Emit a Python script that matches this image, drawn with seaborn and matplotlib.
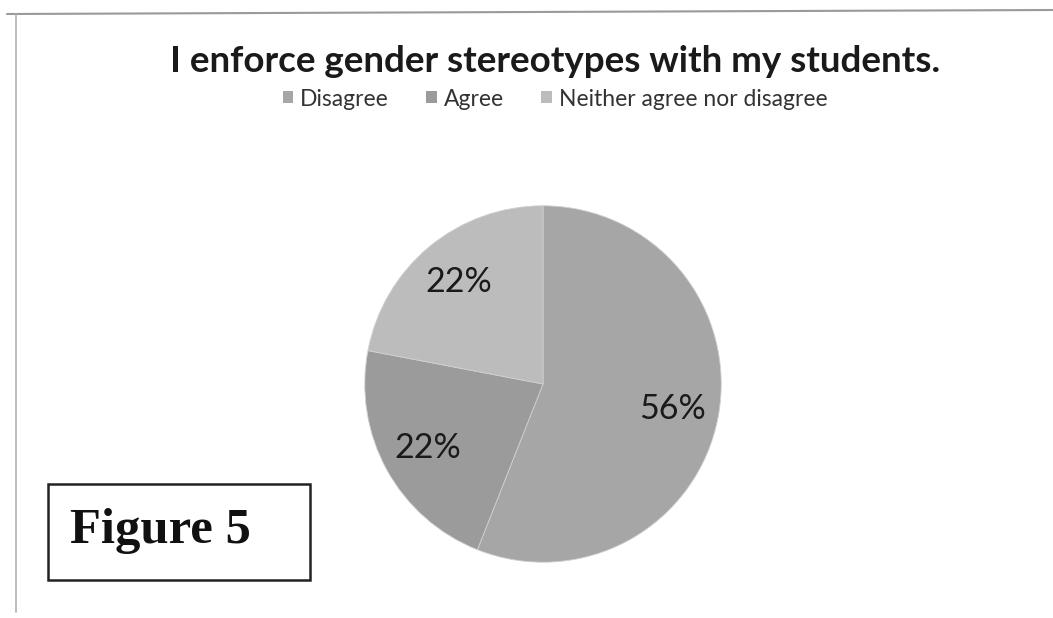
import matplotlib
matplotlib.use("Agg")
import matplotlib.pyplot as plt
from matplotlib.patches import Patch, Rectangle
from matplotlib.lines import Line2D
import seaborn as sns

sns.set_style("white")
plt.rcParams["font.family"] = ["Lato", "DejaVu Sans"]

# data
categories = ["Disagree", "Agree", "Neither agree nor disagree"]
shares = [56, 22, 22]
colors = ["#a6a6a6", "#9b9b9b", "#bcbcbc"]
title = "I enforce gender stereotypes with my students."

W, H = 1053, 618
fig = plt.figure(figsize=(W / 100, H / 100), dpi=100)
fig.patch.set_facecolor("white")

# scanned frame edges
fig.add_artist(Line2D([7 / W, 1.0], [1 - 14 / H, 1 - 10 / H], color="#9a9a9a", lw=1.5))
fig.add_artist(Line2D([16 / W, 16 / W], [1 - 14 / H, 1 - 612 / H], color="#b0b0b0", lw=1.2))

# pie
cx, cy, r = 543, 384, 180
ax = fig.add_axes([(cx - r) / W, 1 - (cy + r) / H, 2 * r / W, 2 * r / H])
wedges, texts, autotexts = ax.pie(
    shares,
    colors=colors,
    startangle=90,
    counterclock=False,
    autopct="%1.0f%%",
    pctdistance=0.74,
    textprops={"fontsize": 24.5, "color": "#1a1a1a"},
    wedgeprops={"linewidth": 0.6, "edgecolor": "#d0d0d0"},
)
ax.set_aspect("equal")
ax.set_xlim(-1.01, 1.01)
ax.set_ylim(-1.01, 1.01)
ax.axis("off")

# title and legend
fig.text(0.527, 1 - 61 / H, title, ha="center", va="center",
         fontsize=26.5, fontweight="bold", color="#1a1a1a")
handles = [Patch(facecolor=c, edgecolor="none") for c in colors]
fig.legend(handles, categories, loc="center", bbox_to_anchor=(0.527, 1 - 99 / H),
           ncol=3, frameon=False, fontsize=16.5, handlelength=0.45, handleheight=0.45,
           handletextpad=0.3, columnspacing=1.65, labelcolor="#333333")

# figure label box
fig.add_artist(Rectangle((48 / W, 1 - 580 / H), 262 / W, 96 / H, fill=False,
                         edgecolor="#222222", lw=1.8, transform=fig.transFigure))
fig.text(70 / W, 1 - 531 / H, "Figure 5", ha="left", va="center",
         fontsize=36.5, fontweight="bold", family=["Liberation Serif"], color="#111111")

fig.savefig("out.png", dpi=100, facecolor="white")
